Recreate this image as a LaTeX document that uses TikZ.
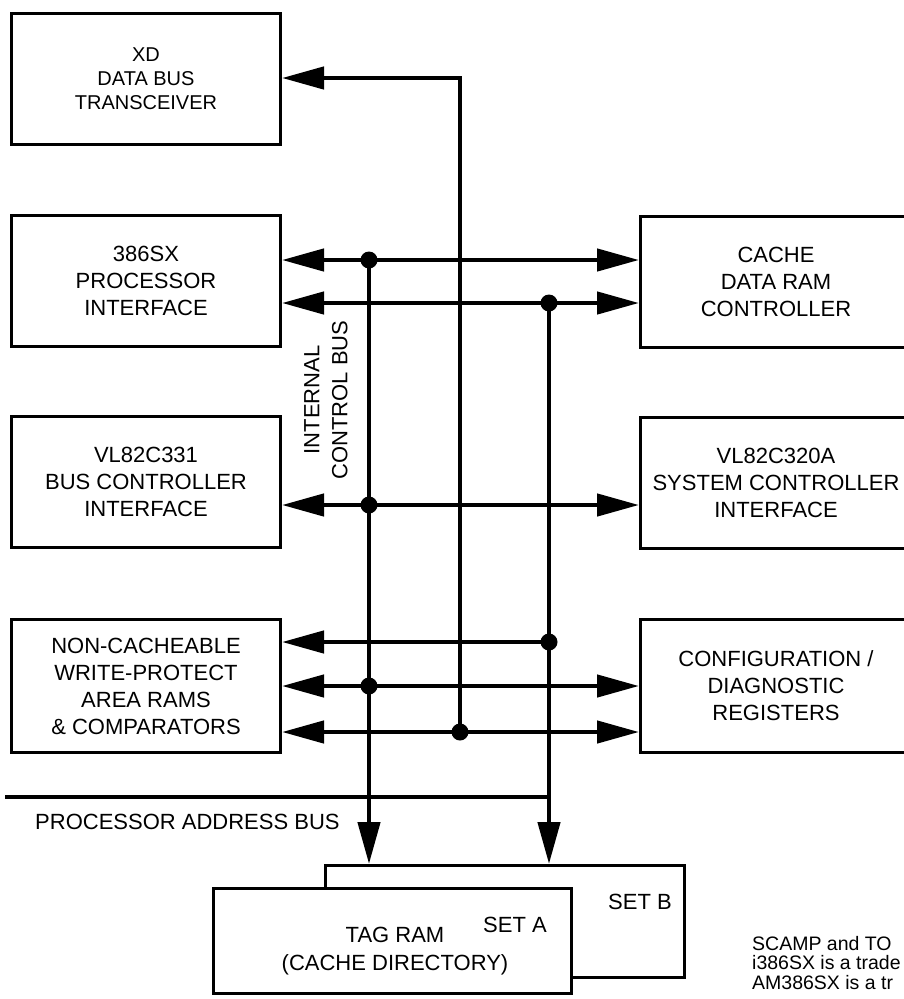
\documentclass[tikz,border=0pt]{standalone}
\usepackage{fontspec}
\setmainfont{Liberation Sans}
\usetikzlibrary{arrows.meta}
\begin{document}
\begin{tikzpicture}[x=1pt,y=-1pt,
  >={Triangle[length=42pt,width=22pt]},
  blk/.style={draw=black, line width=3pt, fill=white, align=center, inner sep=0pt,
    font=\fontsize{22}{27}\selectfont},
  lbl/.style={inner sep=0pt, align=center, font=\fontsize{22}{28}\selectfont},
  foot/.style={inner sep=0pt, anchor=base west, font=\fontsize{19.5}{19.5}\selectfont},
  wire/.style={line width=4.5pt},
  jdot/.style={fill=black}
]
\useasboundingbox (0,0) rectangle (904,999);
\clip (0,0) rectangle (904,999);
\fill[white] (0,0) rectangle (904,999);

% left column
\node[blk, minimum width=269pt, minimum height=131pt, font=\fontsize{20}{24}\selectfont] (xd) at (146,79) {XD\\DATA BUS\\TRANSCEIVER};
\node[blk, minimum width=269pt, minimum height=131pt] (proc) at (146,281) {386SX\\PROCESSOR\\INTERFACE};
\node[blk, minimum width=269pt, minimum height=131pt] (bcif) at (146,482) {VL82C331\\BUS CONTROLLER\\INTERFACE};
\node[blk, minimum width=269pt, minimum height=133pt] (nc) at (146,686) {NON-CACHEABLE\\WRITE-PROTECT\\AREA RAMS\\\& COMPARATORS};

% right column
\node[blk, minimum width=271pt, minimum height=131pt] (cache) at (776,282) {CACHE\\DATA RAM\\CONTROLLER};
\node[blk, minimum width=271pt, minimum height=131pt] (sys) at (776,483) {VL82C320A\\SYSTEM CONTROLLER\\INTERFACE};
\node[blk, minimum width=271pt, minimum height=133pt] (cfg) at (776,686) {CONFIGURATION /\\DIAGNOSTIC\\REGISTERS};

% tag RAM
\node[blk, minimum width=359pt, minimum height=112pt] (setb) at (505,921.5) {};
\node[blk, minimum width=358pt, minimum height=105pt] (seta) at (392.5,941) {};
\node[lbl] (tagtxt) at (395,951) {TAG RAM\\(CACHE DIRECTORY)};
\node[lbl] (setalbl) at (515,925) {SET A};
\node[lbl] (setblbl) at (640,902) {SET B};

% labels
\node[lbl, rotate=90] (icb) at (326,400) {INTERNAL\\CONTROL BUS};
\node[lbl, anchor=west] (pab) at (35,822) {PROCESSOR ADDRESS BUS};

% junctions
\coordinate (p1) at (369,260);
\coordinate (p2) at (549,303);
\coordinate (p3) at (369,505);
\coordinate (p4) at (549,642);
\coordinate (p5) at (369,686);
\coordinate (p6) at (460,732);
\coordinate (q) at (460,78);
\coordinate (ab) at (5,797);

% buses
\draw[wire,<->] (proc.east |- p1) -- (cache.west |- p1);
\draw[wire,<->] (proc.east |- p2) -- (cache.west |- p2);
\draw[wire,<->] (bcif.east |- p3) -- (sys.west |- p3);
\draw[wire,<-] (nc.east |- p4) -- (p4);
\draw[wire,<->] (nc.east |- p5) -- (cfg.west |- p5);
\draw[wire,<->] (nc.east |- p6) -- (cfg.west |- p6);
\draw[wire,->] (p6) -- (q) -- (xd.east |- q);
\draw[wire,->] (p1) -- (p1 |- setb.north);
\draw[wire,->] (p2) -- (p2 |- setb.north);
\draw[wire] (ab) -- (p2 |- ab);

\foreach \p in {p1,p2,p3,p4,p5,p6} \fill[jdot] (\p) circle (8.5pt);

% footnote
\node[foot] (fn1) at (752,950) {SCAMP and TO};
\node[foot] (fn2) at (752,969.5) {i386SX is a trade};
\node[foot] (fn3) at (752,989) {AM386SX is a tr};
\end{tikzpicture}
\end{document}
